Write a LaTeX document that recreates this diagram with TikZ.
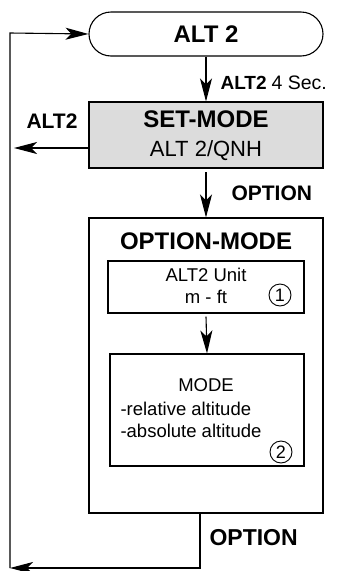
\documentclass[tikz,border=0pt]{standalone}
\usepackage{fontspec}
\setmainfont{Liberation Sans}
\usetikzlibrary{arrows.meta}
\definecolor{boxgray}{HTML}{DCDCDC}
\tikzset{
  flowline/.style={line width=1.1pt},
  arr/.style={flowline,-{Stealth[length=23pt,width=12pt,inset=6pt]}},
  boxstyle/.style={draw,line width=1.1pt,rectangle,inner sep=0pt},
  titlefont/.style={font=\fontsize{24}{28}\selectfont\bfseries},
  labelfont/.style={font=\fontsize{21}{24}\selectfont\bfseries},
  smallfont/.style={font=\fontsize{18.5}{22}\selectfont},
  circnum/.style={draw, circle, line width=0.9pt, inner sep=0pt, minimum size=22pt, font=\fontsize{18}{20}\selectfont},
}
\begin{document}
\begin{tikzpicture}[x=1pt,y=-1pt]
\useasboundingbox (0,0) rectangle (337,571);
\fill[white] (0,0) rectangle (337,571);
% boxes
\node[boxstyle, rounded corners=22pt, minimum width=234pt, minimum height=44pt] (alt) at (206,34) {};
\node[titlefont] (alttxt) at (206,34) {ALT 2};
\node[boxstyle, fill=boxgray, minimum width=234pt, minimum height=66pt] (set) at (206,135) {};
\node[titlefont] (settxt) at (206,119) {SET-MODE};
\node[font=\fontsize{22}{26}\selectfont] (setsub) at (206,151) {ALT 2/QNH};
\node[boxstyle, minimum width=234pt, minimum height=295pt] (opt) at (206,365.5) {};
\node[titlefont] (opttxt) at (206,241) {OPTION-MODE};
\node[boxstyle, minimum width=196pt, minimum height=52pt] (unit) at (206,287) {};
\node[smallfont] (unit1) at (206,275) {ALT2 Unit};
\node[smallfont] (unit2) at (206,297) {m - ft};
\node[circnum] (c1) at (280,295) {1};
\node[boxstyle, minimum width=194pt, minimum height=112pt] (mode) at (207,410) {};
\node[smallfont] (mode1) at (206,385) {MODE};
\node[smallfont, anchor=west] (mode2) at (117,409) {-relative altitude};
\node[smallfont, anchor=west] (mode3) at (117,431) {-absolute altitude};
\node[circnum] (c2) at (281,452) {2};
% labels
\node[labelfont, anchor=west, font=\fontsize{19}{22}\selectfont\bfseries] (l1) at (217,83) {ALT2};
\node[font=\fontsize{19.5}{22}\selectfont, anchor=west] (l1b) at (268,83) {4 Sec.};
\node[labelfont] (l2) at (52,121) {ALT2};
\node[labelfont, anchor=west] (l3) at (228,193) {OPTION};
\node[labelfont, anchor=west, font=\fontsize{23}{26}\selectfont\bfseries] (l4) at (206,538) {OPTION};
% coordinates
\coordinate (tl) at (10,33);
\coordinate (bl) at (10,568);
\coordinate (br) at (200,568);
\coordinate (ob) at (200,513);
\coordinate (sw) at (89,148);
\coordinate (swend) at (14,148);
\coordinate (sb) at (206,172);
% connectors
\draw[arr] (alt.south) -- (set.north);
\draw[arr] (sw) -- (swend);
\draw[arr] (sb) -- (opt.north);
\draw[arr] ([yshift=-3pt]unit.south) -- (mode.north);
\draw[arr] (ob) -- (br) -- (bl);
\draw[arr] (bl) -- (tl) -- (alt.west);
\end{tikzpicture}
\end{document}
